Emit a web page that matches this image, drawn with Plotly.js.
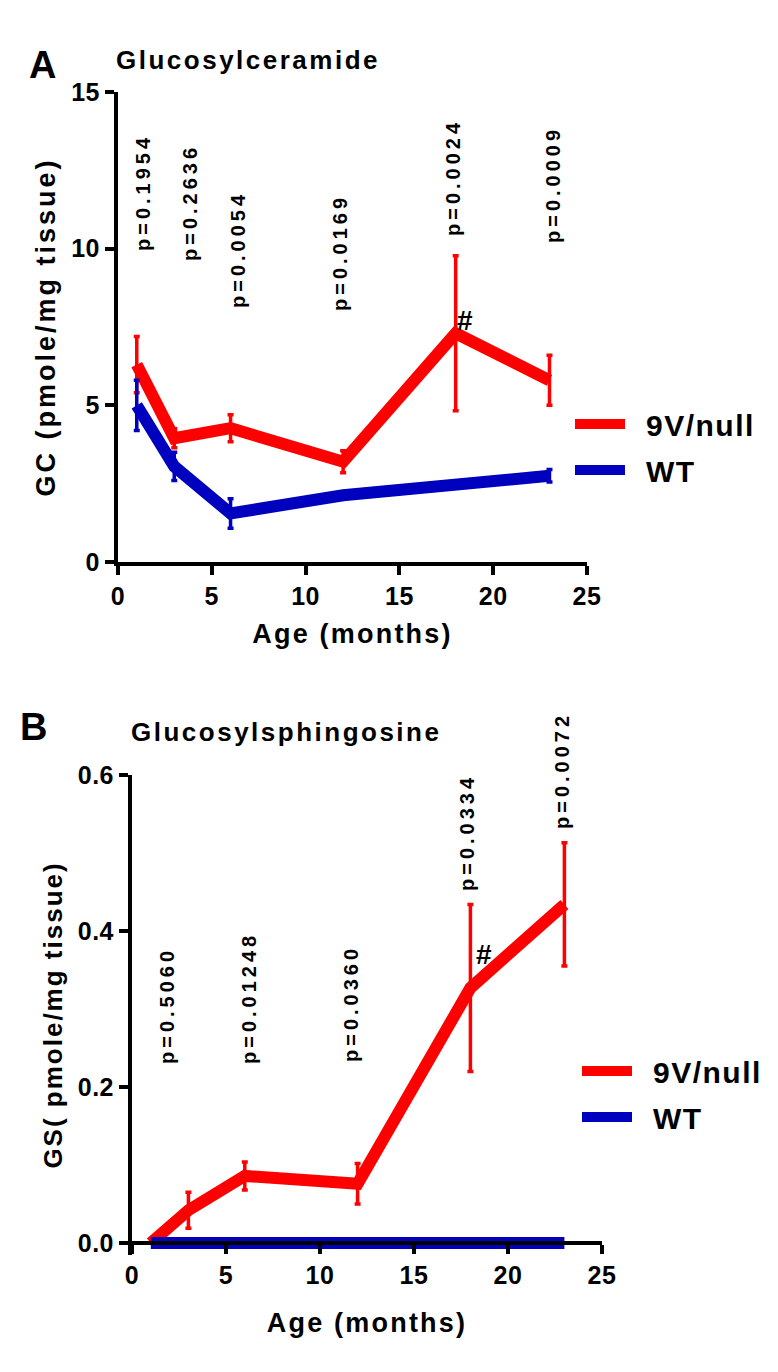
<!DOCTYPE html>
<html>
<head>
<meta charset="utf-8">
<script src="https://cdn.plot.ly/plotly-3.0.1.min.js"></script>
<style>
html,body{margin:0;padding:0;background:#fff}
#chart{width:778px;height:1372px}
text.annotation-text{letter-spacing:2.5px}
text.annotation-text[data-unformatted^="p="]{letter-spacing:4px}
text.xtitle,text.x2title{letter-spacing:2.2px}
text.ytitle{letter-spacing:3px}
text.y2title{letter-spacing:2px}
g.xtick text,g.ytick text,g.x2tick text,g.y2tick text{letter-spacing:0.5px}
</style>
</head>
<body>
<div id="chart"></div>
<script>
// ---- Data: Panel A (Glucosylceramide, pmole/mg tissue) ----
const ageA = [1, 3, 6, 12, 18, 23];
const gcMutant = [6.3, 3.95, 4.27, 3.2, 7.3, 5.8];
const gcMutantErr = [0.9, 0.3, 0.43, 0.35, 2.47, 0.8];
const ageWtA = [1, 3, 6, 12, 23];
const gcWt = [5.0, 3.05, 1.55, 2.13, 2.75];
const gcWtErr = [0.8, 0.45, 0.47, 0.08, 0.2];
const pValuesA = ['p=0.1954', 'p=0.2636', 'p=0.0054', 'p=0.0169', 'p=0.0024', 'p=0.0009'];

// ---- Data: Panel B (Glucosylsphingosine, pmole/mg tissue) ----
const ageB = [1, 3, 6, 12, 18, 23];
const gsMutant = [0, 0.042, 0.086, 0.076, 0.327, 0.434];
const gsMutantErr = [0, 0.023, 0.018, 0.026, 0.107, 0.079];
const gsWt = [0, 0, 0, 0, 0, 0];
const pValuesB = ['p=0.5060', 'p=0.01248', 'p=0.0360', 'p=0.0334', 'p=0.0072'];

const seriesNames = ['9V/null', 'WT'];
const tickValsX = [0, 5, 10, 15, 20, 25];
const tickValsA = [0, 5, 10, 15];
const tickValsB = [0, 0.2, 0.4, 0.6];

// ---- Layout helpers (pixel -> paper) ----
const W = 778, H = 1372;
const px = v => v / W;
const py = v => 1 - v / H;
const RED = '#ff0000';
const BLUE = '#0000bf';
const FONT = 'Liberation Sans, Arial, Helvetica, sans-serif';
const bold = (size) => ({family: FONT, size: size, color: '#000', weight: 'bold'});

const errStyle = (arr, color) => ({type: 'data', array: arr, visible: true, color: color, thickness: 3.5, width: 3});

const traces = [
  {x: ageA, y: gcMutant, name: seriesNames[0], mode: 'lines', xaxis: 'x', yaxis: 'y',
   line: {color: RED, width: 12}, error_y: errStyle(gcMutantErr, RED), legend: 'legend', legendgroup: 'a1'},
  {x: ageWtA, y: gcWt, name: seriesNames[1], mode: 'lines', xaxis: 'x', yaxis: 'y',
   line: {color: BLUE, width: 12}, error_y: errStyle(gcWtErr, BLUE), legend: 'legend', legendgroup: 'a2'},
  {x: ageB, y: gsMutant, name: seriesNames[0], mode: 'lines', xaxis: 'x2', yaxis: 'y2',
   line: {color: RED, width: 12}, error_y: errStyle(gsMutantErr, RED), legend: 'legend2', legendgroup: 'b1'},
  {x: ageB, y: gsWt, name: seriesNames[1], mode: 'lines', xaxis: 'x2', yaxis: 'y2',
   line: {color: BLUE, width: 12}, legend: 'legend2', legendgroup: 'b2'}
];

const axisCommon = {
  showgrid: false, zeroline: false, showline: true, linecolor: '#000', linewidth: 4,
  ticks: 'outside', ticklen: 9, tickwidth: 4, tickcolor: '#000',
  tickfont: bold(25), automargin: false, fixedrange: true
};

// p-value label positions (pixel centres)
const pPosA = [[143, 193], [190, 203], [238, 250], [340, 253], [453, 178], [553, 185]];
const pPosB = [[167, 1006], [249, 998], [351, 1004], [467, 833], [562, 771]];

const annotations = [];
pValuesA.forEach((t, i) => annotations.push({text: t, xref: 'paper', yref: 'paper',
  x: px(pPosA[i][0]), y: py(pPosA[i][1]), xanchor: 'center', yanchor: 'middle', textangle: -90,
  showarrow: false, font: bold(20)}));
pValuesB.forEach((t, i) => annotations.push({text: t, xref: 'paper', yref: 'paper',
  x: px(pPosB[i][0]), y: py(pPosB[i][1]), xanchor: 'center', yanchor: 'middle', textangle: -90,
  showarrow: false, font: bold(20)}));
annotations.push(
  {text: 'A', xref: 'paper', yref: 'paper', x: px(44), y: py(65), xanchor: 'center', yanchor: 'middle', showarrow: false, font: bold(38)},
  {text: 'B', xref: 'paper', yref: 'paper', x: px(35), y: py(727), xanchor: 'center', yanchor: 'middle', showarrow: false, font: bold(38)},
  {text: 'Glucosylceramide', xref: 'paper', yref: 'paper', x: px(248), y: py(60), xanchor: 'center', yanchor: 'middle', showarrow: false, font: bold(26)},
  {text: 'Glucosylsphingosine', xref: 'paper', yref: 'paper', x: px(286), y: py(732), xanchor: 'center', yanchor: 'middle', showarrow: false, font: bold(26)},
  {text: '#', xref: 'paper', yref: 'paper', x: px(466), y: py(320), xanchor: 'center', yanchor: 'middle', showarrow: false, font: bold(28)},
  {text: '#', xref: 'paper', yref: 'paper', x: px(485), y: py(955), xanchor: 'center', yanchor: 'middle', showarrow: false, font: bold(28)}
);

const legendCommon = {
  xanchor: 'left', yanchor: 'middle', bgcolor: 'rgba(0,0,0,0)', borderwidth: 0,
  font: bold(30), itemwidth: 50, traceorder: 'grouped', tracegroupgap: 4,
  itemclick: false, itemdoubleclick: false
};

const layout = {
  width: W, height: H,
  margin: {l: 0, r: 0, t: 0, b: 0, pad: 0},
  paper_bgcolor: '#fff', plot_bgcolor: '#fff',
  showlegend: true,
  xaxis: Object.assign({}, axisCommon, {domain: [px(118), px(587)], range: [0, 25], tickvals: tickValsX, anchor: 'y',
    title: {text: 'Age (months)', font: bold(27), standoff: 16}}),
  yaxis: Object.assign({}, axisCommon, {domain: [py(562), py(92)], range: [0, 15], tickvals: tickValsA, anchor: 'x',
    title: {text: 'GC (pmole/mg tissue)', font: bold(27), standoff: 9}}),
  xaxis2: Object.assign({}, axisCommon, {domain: [px(132), px(602)], range: [0, 25], tickvals: tickValsX, anchor: 'free', position: py(1243),
    title: {text: 'Age (months)', font: bold(27), standoff: 24}}),
  yaxis2: Object.assign({}, axisCommon, {domain: [py(1255), py(775)], range: [-12 / 780, 0.6], tickvals: tickValsB, tickformat: '.1f', anchor: 'x2',
    title: {text: 'GS( pmole/mg tissue)', font: bold(26), standoff: 9}}),
  legend: Object.assign({}, legendCommon, {x: px(570), y: py(447)}),
  legend2: Object.assign({}, legendCommon, {x: px(577), y: py(1094)}),
  annotations: annotations
};

function adjustLegends(gd) {
  // widen the gap between legend swatch and label, as in the original figure
  gd.querySelectorAll('.scrollbox').forEach(function (s) { s.removeAttribute('clip-path'); s.style.clipPath = 'none'; });
  gd.querySelectorAll('text').forEach(function (t) {
    var isLegend = t.classList.contains('legendtext') ||
      (seriesNames.indexOf(t.textContent) >= 0 && !t.classList.contains('annotation-text'));
    if (!isLegend || t.getAttribute('data-shifted')) return;
    var x0 = parseFloat(t.getAttribute('x')) || 0;
    t.setAttribute('x', x0 + 16);
    t.setAttribute('data-shifted', '1');
    t.style.letterSpacing = '1.5px';
  });
}

Plotly.newPlot('chart', traces, layout, {staticPlot: true, displayModeBar: false}).then(function (gd) {
  adjustLegends(gd);
  setTimeout(function () { adjustLegends(gd); }, 30);
  setTimeout(function () { adjustLegends(gd); }, 200);
});
</script>
</body>
</html>
